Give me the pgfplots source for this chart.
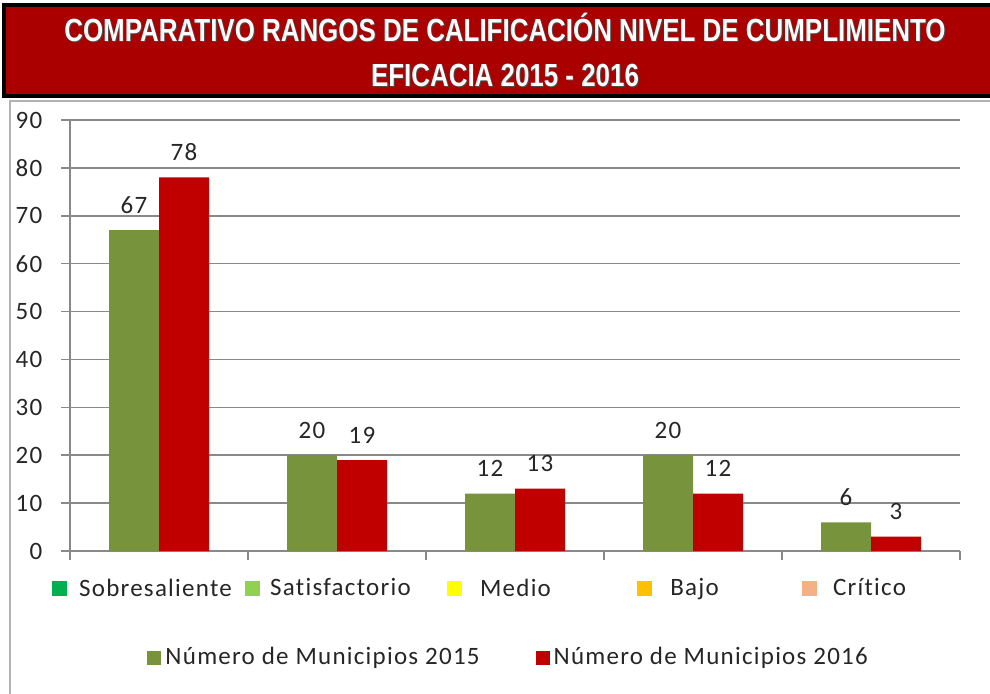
\documentclass[border=0pt]{standalone}
\usepackage{pgfplots}
\pgfplotsset{compat=1.18}
\usepackage{fontspec}
\setmainfont{Carlito}[LetterSpace=5, Ligatures=NoCommon]
\newfontfamily\titlefont{Liberation Sans Bold}[FakeStretch=0.81]
\definecolor{titlered}{HTML}{AA0000}
\definecolor{barg}{HTML}{77933C}
\definecolor{barr}{HTML}{C00000}
\definecolor{cSob}{HTML}{00B050}
\definecolor{cSat}{HTML}{92D050}
\definecolor{cMed}{HTML}{FFFF00}
\definecolor{cBaj}{HTML}{FFC000}
\definecolor{cCri}{HTML}{F4B183}
\definecolor{gridc}{HTML}{898989}
\definecolor{txt}{HTML}{262626}
\newcommand{\sq}[1]{\textcolor{#1}{\rule{7.5pt}{7.5pt}}}
\begin{document}
\fontsize{12.5pt}{15pt}\selectfont
\begin{tikzpicture}
\useasboundingbox (0,0) rectangle (495pt,-347pt);
\clip (0,0) rectangle (495pt,-347pt);
\draw[gray!60, line width=0.8pt] (5pt,-50.5pt) rectangle (520pt,-370pt);
\draw[fill=titlered, line width=1.8pt] (2pt,-2.5pt) rectangle (510pt,-48pt);
\foreach \dx/\dy/\c in {0.5pt/-0.5pt/black!70, 0pt/0pt/white}{
  \node[anchor=base, inner sep=0pt, text=\c, font=\titlefont\fontsize{16pt}{18pt}\selectfont] at ([xshift=\dx,yshift=\dy]252.5pt,-21pt) {COMPARATIVO RANGOS DE CALIFICACIÓN NIVEL DE CUMPLIMIENTO};
  \node[anchor=base, inner sep=0pt, text=\c, font=\titlefont\fontsize{16pt}{18pt}\selectfont] at ([xshift=\dx,yshift=\dy]252.5pt,-43.5pt) {EFICACIA 2015 - 2016};
}
\begin{axis}[
  at={(35pt,-275.5pt)}, anchor=south west,
  width=445pt, height=215.5pt, scale only axis,
  ybar=0pt, bar width=25pt,
  xmin=-0.5, xmax=4.5, ymin=0, ymax=90,
  ytick={0,10,...,90},
  xtick={-0.5,0.5,1.5,2.5,3.5,4.5},
  x tick label as interval,
  xticklabels={
    {\sq{cSob}\hspace{6pt}Sobresaliente\hspace*{17pt}},
    {\sq{cSat}\hspace{5pt}Satisfactorio\hspace*{9pt}},
    {\sq{cMed}\hspace{9pt}Medio\hspace*{16pt}},
    {\sq{cBaj}\hspace{9pt}Bajo\hspace*{15pt}},
    {\sq{cCri}\hspace{8pt}Crítico\hspace*{17pt}}},
  axis x line=bottom, axis y line=left,
  axis line style={-, gridc, line width=0.75pt},
  tick style={gridc, line width=0.75pt},
  tick align=outside, major tick length=4.5pt,
  ymajorgrids, grid style={gridc, line width=0.75pt},
  /pgf/number format/assume math mode=true,
  tick label style={text=txt, font=\fontsize{12.5pt}{15pt}\selectfont},
  yticklabel style={xshift=-5pt},
  xticklabel style={yshift=-5pt},
  nodes near coords,
  every node near coord/.append style={text=txt, font=\fontsize{12.5pt}{15pt}\selectfont, yshift=4pt},
  legend style={at={(0.494,-0.248)}, anchor=center, draw=none, fill=none,
    legend columns=2, font=\fontsize{12.5pt}{15pt}\selectfont, text=txt,
    /tikz/every even column/.append style={column sep=26pt}},
  legend image code/.code={\fill[#1] (0pt,-3.5pt) rectangle (7pt,3.5pt);},
  clip=false,
]
\addplot[fill=barg, draw=none] coordinates {(0,67) (1,20) (2,12) (3,20) (4,6)};
\addplot[fill=barr, draw=none] coordinates {(0,78) (1,19) (2,13) (3,12) (4,3)};
\legend{Número de Municipios 2015, Número de Municipios 2016}
\end{axis}
\end{tikzpicture}
\end{document}
